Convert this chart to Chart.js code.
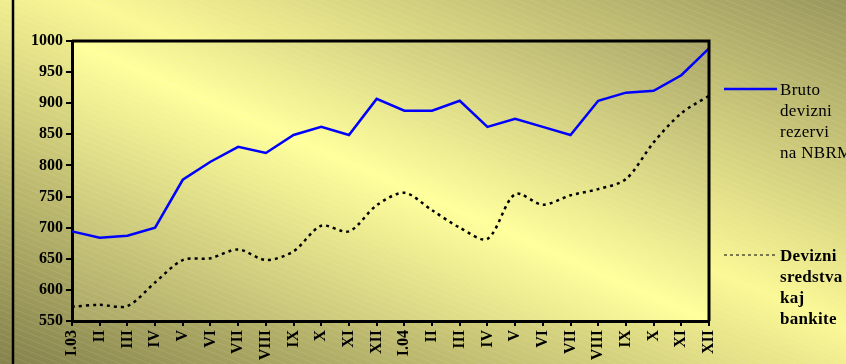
<!DOCTYPE html>
<html>
<head>
<meta charset="utf-8">
<script src="https://cdn.jsdelivr.net/npm/chart.js@4/dist/chart.umd.min.js"></script>
<style>
html, body { margin: 0; padding: 0; overflow: hidden; background: #fff; }
</style>
</head>
<body>
<canvas id="myChart" width="846" height="364"></canvas>
<script>
// Meseci (2003 - 2004)
const meseci = ['I.03', 'II', 'III', 'IV', 'V', 'VI', 'VII', 'VIII', 'IX', 'X', 'XI', 'XII',
                'I.04', 'II', 'III', 'IV', 'V', 'VI', 'VII', 'VIII', 'IX', 'X', 'XI', 'XII'];

// Bruto devizni rezervi na NBRM
const brutoRezervi = [694, 684, 687, 700, 777, 806, 830, 820, 849, 862, 849, 907,
                      888, 888, 904, 862, 875, 862, 849, 904, 917, 920, 945, 988];

// Devizni sredstva kaj bankite
const sredstvaBanki = [573, 576, 574, 612, 648, 651, 665, 648, 662, 703, 694, 736,
                       756, 728, 700, 682, 754, 737, 752, 762, 778, 837, 884, 912];

const yTikovi = [550, 600, 650, 700, 750, 800, 850, 900, 950, 1000];

const legenda = [
    { linii: ['Bruto', 'devizni', 'rezervi', 'na NBRM'], y: 89, boja: '#0000ff', dash: [], sirina: 2.5, bold: false },
    { linii: ['Devizni', 'sredstva', 'kaj', 'bankite'], y: 255, boja: '#000', dash: [3, 3], sirina: 1, bold: true }
];

// gradient od dolno-levo do gorno-desno (temno - svetlo - temno)
function dijagonalenGradient(ctx, x, y, w, h, boi) {
    ctx.save();
    ctx.translate(x, y);
    ctx.scale(w, h);
    const g = ctx.createLinearGradient(0, 1, 1, 0);
    boi.forEach(b => g.addColorStop(b[0], b[1]));
    ctx.fillStyle = g;
    ctx.fillRect(0, 0, 1, 1);
    ctx.restore();
}

const pozadina = {
    id: 'pozadina',
    beforeDraw(chart) {
        const ctx = chart.ctx;
        const W = chart.width, H = chart.height;
        const a = chart.chartArea;
        dijagonalenGradient(ctx, 0, 0, W, H, [[0, '#85824c'], [0.55, '#fbf896'], [1, '#9a975d']]);
        dijagonalenGradient(ctx, a.left, a.top, a.right - a.left, a.bottom - a.top,
            [[0, '#aaa666'], [0.5, '#ffff9c'], [1, '#a9a568']]);
        // tenki beli kosi linii
        ctx.save();
        ctx.strokeStyle = 'rgba(255,255,255,0.1)';
        ctx.lineWidth = 1;
        ctx.beginPath();
        for (let i = -W; i < H + W; i += 6) {
            ctx.moveTo(0, i - W * 0.4);
            ctx.lineTo(W, i);
        }
        ctx.stroke();
        // leva linija na ramkata
        ctx.strokeStyle = '#000';
        ctx.lineWidth = 2.5;
        ctx.beginPath();
        ctx.moveTo(13, 0);
        ctx.lineTo(13, H);
        ctx.stroke();
        ctx.restore();
    },
    afterDraw(chart) {
        const ctx = chart.ctx;
        const a = chart.chartArea;
        ctx.save();
        // ramka na grafikot
        ctx.strokeStyle = '#000';
        ctx.lineWidth = 3;
        ctx.beginPath();
        ctx.moveTo(a.left, a.top);
        ctx.lineTo(a.right, a.top);
        ctx.lineTo(a.right, a.bottom);
        ctx.stroke();
        // legenda
        legenda.forEach(l => {
            ctx.strokeStyle = l.boja;
            ctx.lineWidth = l.sirina;
            ctx.setLineDash(l.dash);
            ctx.beginPath();
            ctx.moveTo(724, l.y);
            ctx.lineTo(777, l.y);
            ctx.stroke();
            ctx.setLineDash([]);
            ctx.fillStyle = '#000';
            ctx.font = (l.bold ? 'bold ' : '') + '17px "Liberation Serif"';
            ctx.letterSpacing = '0.3px';
            ctx.textBaseline = 'alphabetic';
            l.linii.forEach((t, i) => ctx.fillText(t, 780, l.y + 6 + i * 21));
        });
        ctx.restore();
    }
};

const ctx = document.getElementById('myChart').getContext('2d');
const myChart = new Chart(ctx, {
    type: 'line',
    data: {
        labels: meseci,
        datasets: [{
            label: 'Bruto devizni rezervi na NBRM',
            data: brutoRezervi,
            borderColor: '#0000ff',
            borderWidth: 2.5,
            pointRadius: 0,
            tension: 0
        }, {
            label: 'Devizni sredstva kaj bankite',
            data: sredstvaBanki,
            borderColor: '#000000',
            borderWidth: 2.5,
            borderDash: [3, 4],
            pointRadius: 0,
            tension: 0.3
        }]
    },
    options: {
        responsive: false,
        animation: false,
        layout: {
            padding: { top: 41, right: 137, bottom: 0, left: 0 }
        },
        plugins: {
            legend: { display: false },
            tooltip: { enabled: false }
        },
        scales: {
            x: {
                offset: false,
                afterFit: s => { s.height = 43; },
                grid: { drawOnChartArea: false, color: '#000', lineWidth: 2, tickLength: 5 },
                border: { display: true, color: '#000', width: 3 },
                ticks: {
                    autoSkip: false,
                    maxRotation: 90,
                    minRotation: 90,
                    padding: 4,
                    color: '#000',
                    font: { family: '"Liberation Serif"', size: 16, weight: 'bold' }
                }
            },
            y: {
                min: 550,
                max: 1000,
                afterFit: s => { s.width = 72; },
                afterBuildTicks: s => { s.ticks = yTikovi.map(v => ({ value: v })); },
                grid: { drawOnChartArea: false, color: '#000', lineWidth: 2, tickLength: 6 },
                border: { display: true, color: '#000', width: 3 },
                ticks: {
                    padding: 3,
                    color: '#000',
                    callback: v => String(v),
                    font: { family: '"Liberation Serif"', size: 16, weight: 'bold' }
                }
            }
        }
    },
    plugins: [pozadina]
});
</script>
</body>
</html>
